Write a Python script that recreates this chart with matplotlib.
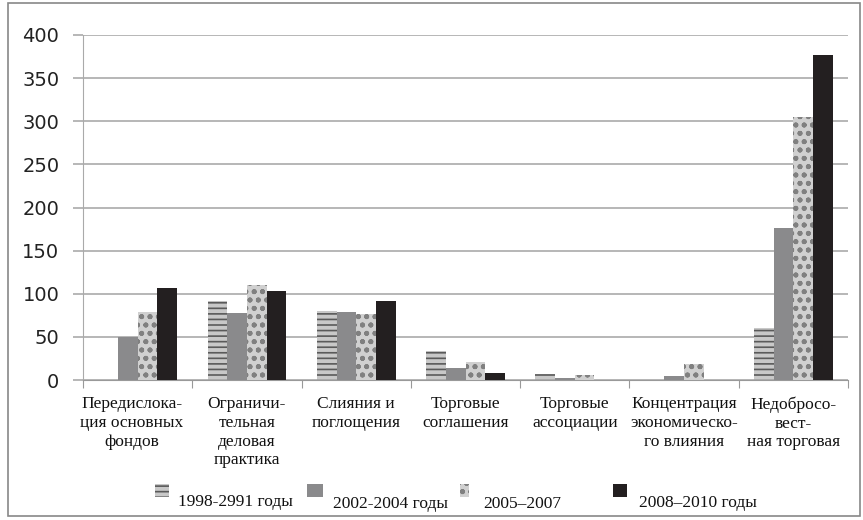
import numpy as np
import matplotlib
matplotlib.use("Agg")
import matplotlib.pyplot as plt
from matplotlib.patches import Rectangle

# data
categories = [
    "Передислока-\nция основных\nфондов",
    "Ограничи-\nтельная\nделовая\nпрактика",
    "Слияния и\nпоглощения",
    "Торговые\nсоглашения",
    "Торговые\nассоциации",
    "Концентрация\nэкономическо-\nго влияния",
    "Недобросо-\nвест-\nная торговая",
]
series_names = ["1998-2991 годы", "2002-2004 годы", "2005\u20132007", "2008\u20132010 годы"]
v_1998 = [0, 92, 80, 34, 7, 0, 60]
v_2002 = [50, 78, 79, 14, 2, 5, 176]
v_2005 = [79, 110, 77, 21, 6, 18, 305]
v_2008 = [107, 103, 92, 8, 0, 0, 377]
yticks = [0, 50, 100, 150, 200, 250, 300, 350, 400]

# styles
styles = [
    dict(facecolor="#c8c8c8", edgecolor="#5a5a5a", hatch="---", linewidth=0),
    dict(facecolor="#8a8a8c", edgecolor="#8a8a8c", linewidth=0),
    dict(facecolor="#d0d0d0", edgecolor="#808080", hatch="oo..", linewidth=0),
    dict(facecolor="#231f20", edgecolor="#231f20", linewidth=0),
]
plt.rcParams["hatch.linewidth"] = 1.2
W, H = 863, 520

fig = plt.figure(figsize=(8.63, 5.2), dpi=100)
ax = fig.add_axes([83 / W, 140 / H, 765 / W, 345 / H])

x = np.arange(len(categories))
w = 0.18
series = [v_1998, v_2002, v_2005, v_2008]
for i, (vals, st) in enumerate(zip(series, styles)):
    ax.bar(x + (i - 1.5) * w, vals, w, label=series_names[i], zorder=3, **st)

ax.set_xlim(-0.5, len(categories) - 0.5)
ax.set_ylim(0, 400)
ax.set_yticks(yticks)
ax.yaxis.grid(True, color="#aaaaaa", linewidth=1.2, zorder=0)
ax.set_axisbelow(True)
for s in ["top", "right"]:
    ax.spines[s].set_visible(False)
ax.spines["bottom"].set_color("#999999")
ax.spines["left"].set_color("#aaaaaa")
ax.tick_params(axis="y", length=7, width=1.2, color="#aaaaaa", labelsize=14,
               pad=10, labelcolor="#222222")

# category ticks between groups
ax.set_xticks(np.arange(-0.5, len(categories)))
ax.set_xticklabels([])
ax.tick_params(axis="x", length=6, color="#999999", direction="out")
label_shift = [-0.055, 0, 0, 0, 0, 0, 0]
for xi, lab, dx in zip(x, categories, label_shift):
    ax.text(xi + dx, -19, lab, ha="center", va="top", fontsize=12.5,
            family="Liberation Serif", linespacing=1.22, color="#111111")

# legend, drawn by hand as in the source figure (text sits below the swatch)
swatch_x = [155, 307, 460, 613]
swatch_w = [14, 16, 9, 14]
text_x = [178, 333, 483, 639]
text_base = [506, 508, 508, 507]
for i in range(4):
    st = dict(styles[i])
    fig.patches.append(Rectangle((swatch_x[i] / W, (H - 497) / H), swatch_w[i] / W, 13 / H,
                                 transform=fig.transFigure, **st))
    fig.text(text_x[i] / W, (H - text_base[i]) / H, series_names[i], ha="left",
             va="baseline", fontsize=12.5, family="Liberation Serif", color="#111111")

# figure border
fig.patches.append(Rectangle((8 / W, 4 / H), 852 / W, 513 / H, transform=fig.transFigure,
                             fill=False, edgecolor="#888888", linewidth=1.2))

fig.savefig("out.png", dpi=100)
